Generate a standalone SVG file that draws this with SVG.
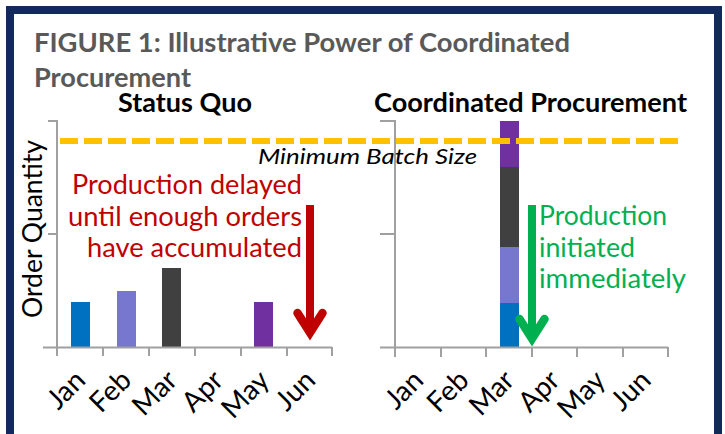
<svg xmlns="http://www.w3.org/2000/svg" width="725" height="434" viewBox="0 0 725 434">
  <style>
    text { font-family: "Lato", "Open Sans", "Liberation Sans", sans-serif; }
    .title { font-size: 26px; font-weight: bold; fill: #595959; }
    .head { font-size: 26px; font-weight: bold; fill: #000000; }
    .axis { stroke: #a0a0a0; stroke-width: 2; fill: none; }
    .month { font-size: 28px; fill: #000000; text-anchor: end; }
    .note-red { font-size: 26px; fill: #c00000; text-anchor: end; }
    .note-green { font-size: 26px; fill: #00b050; }
    .minbatch { font-size: 21px; font-style: italic; fill: #000000; }
    .ylabel { font-size: 26px; fill: #000000; }
    .shaft { fill: none; stroke-width: 8; }
    .head-v { fill: none; stroke-width: 8.5; stroke-linejoin: miter; stroke-linecap: round; stroke-miterlimit: 10; }
  </style>

  <!-- white page with navy frame -->
  <rect x="0" y="0" width="725" height="434" fill="#ffffff"/>
  <rect id="frame" x="10" y="10" width="708" height="450" fill="none" stroke="#12295b" stroke-width="8"/>

  <!-- figure caption -->
  <g id="title">
    <text class="title" x="34" y="52" textLength="536" lengthAdjust="spacingAndGlyphs">FIGURE 1:  Illustrative Power of Coordinated</text>
    <text class="title" x="34" y="86.5" textLength="157" lengthAdjust="spacingAndGlyphs">Procurement</text>
  </g>

  <!-- left chart: status quo -->
  <g id="chart-status-quo">
    <text class="head" x="118" y="111.5" textLength="134" lengthAdjust="spacingAndGlyphs">Status Quo</text>
    <text class="ylabel" transform="translate(42,318) rotate(-90)" x="0" y="0" textLength="178" lengthAdjust="spacingAndGlyphs">Order Quantity</text>
    <rect x="71" y="302" width="19" height="45.5" fill="#0070c0"/>
    <rect x="117" y="291" width="19" height="56.5" fill="#7777cf"/>
    <rect x="162" y="268" width="19" height="79.5" fill="#404040"/>
    <rect x="254" y="302" width="19" height="45.5" fill="#7030a0"/>
    <path class="axis" d="M48,121 H57 V356 M48,234 H57 M43,347.5 H332 M103,347.5 V356 M149,347.5 V356 M195,347.5 V356 M241,347.5 V356 M287,347.5 V356 M332,347 V356"/>
    <g class="month">
      <text transform="translate(87,382) rotate(-45)">Jan</text>
      <text transform="translate(133,382) rotate(-45)">Feb</text>
      <text transform="translate(179,382) rotate(-45)">Mar</text>
      <text transform="translate(225,382) rotate(-45)">Apr</text>
      <text transform="translate(271,382) rotate(-45)">May</text>
      <text transform="translate(317,382) rotate(-45)">Jun</text>
    </g>
    <text class="note-red" x="302" y="194" textLength="230" lengthAdjust="spacingAndGlyphs">Production delayed</text>
    <text class="note-red" x="302" y="225.5" textLength="234" lengthAdjust="spacingAndGlyphs">until enough orders</text>
    <text class="note-red" x="302" y="257" textLength="215" lengthAdjust="spacingAndGlyphs">have accumulated</text>
  </g>

  <!-- right chart: coordinated procurement -->
  <g id="chart-coordinated">
    <text class="head" x="374" y="111.5" textLength="313" lengthAdjust="spacingAndGlyphs">Coordinated Procurement</text>
    <rect x="500" y="303" width="19" height="44.5" fill="#0070c0"/>
    <rect x="500" y="247" width="19" height="56" fill="#7777cf"/>
    <rect x="500" y="167" width="19" height="80" fill="#404040"/>
    <rect x="500" y="121" width="19" height="46" fill="#7030a0"/>
    <path class="axis" d="M380,121 H395 V357 M380,234 H395 M380,347.5 H668 M441,347.5 V357 M486,347.5 V357 M532,347.5 V357 M577,347.5 V357 M623,347.5 V357 M668,347 V357"/>
    <g class="month">
      <text transform="translate(425,382) rotate(-45)">Jan</text>
      <text transform="translate(470.5,382) rotate(-45)">Feb</text>
      <text transform="translate(516,382) rotate(-45)">Mar</text>
      <text transform="translate(561.5,382) rotate(-45)">Apr</text>
      <text transform="translate(607,382) rotate(-45)">May</text>
      <text transform="translate(652.5,382) rotate(-45)">Jun</text>
    </g>
    <text class="note-green" x="539" y="225" textLength="128" lengthAdjust="spacingAndGlyphs">Production</text>
    <text class="note-green" x="539" y="256.7" textLength="96" lengthAdjust="spacingAndGlyphs">initiated</text>
    <text class="note-green" x="539" y="288.3" textLength="147" lengthAdjust="spacingAndGlyphs">immediately</text>
  </g>

  <!-- minimum batch size threshold -->
  <g id="min-batch">
    <line x1="60" y1="141" x2="678" y2="141" stroke="#ffc000" stroke-width="6" stroke-dasharray="18 6"/>
    <text class="minbatch" x="258" y="164" textLength="219" lengthAdjust="spacingAndGlyphs">Minimum Batch Size</text>
  </g>

  <!-- production timing arrows -->
  <g id="arrows">
    <line class="shaft" x1="310" y1="205" x2="310" y2="333" stroke="#c00000"/>
    <path class="head-v" d="M297.5,313 L310,332.5 L322.5,313" stroke="#c00000"/>
    <line class="shaft" x1="532" y1="205" x2="532" y2="339" stroke="#00b050"/>
    <path class="head-v" d="M519.5,319 L532,338.5 L544.5,319" stroke="#00b050"/>
  </g>
</svg>
